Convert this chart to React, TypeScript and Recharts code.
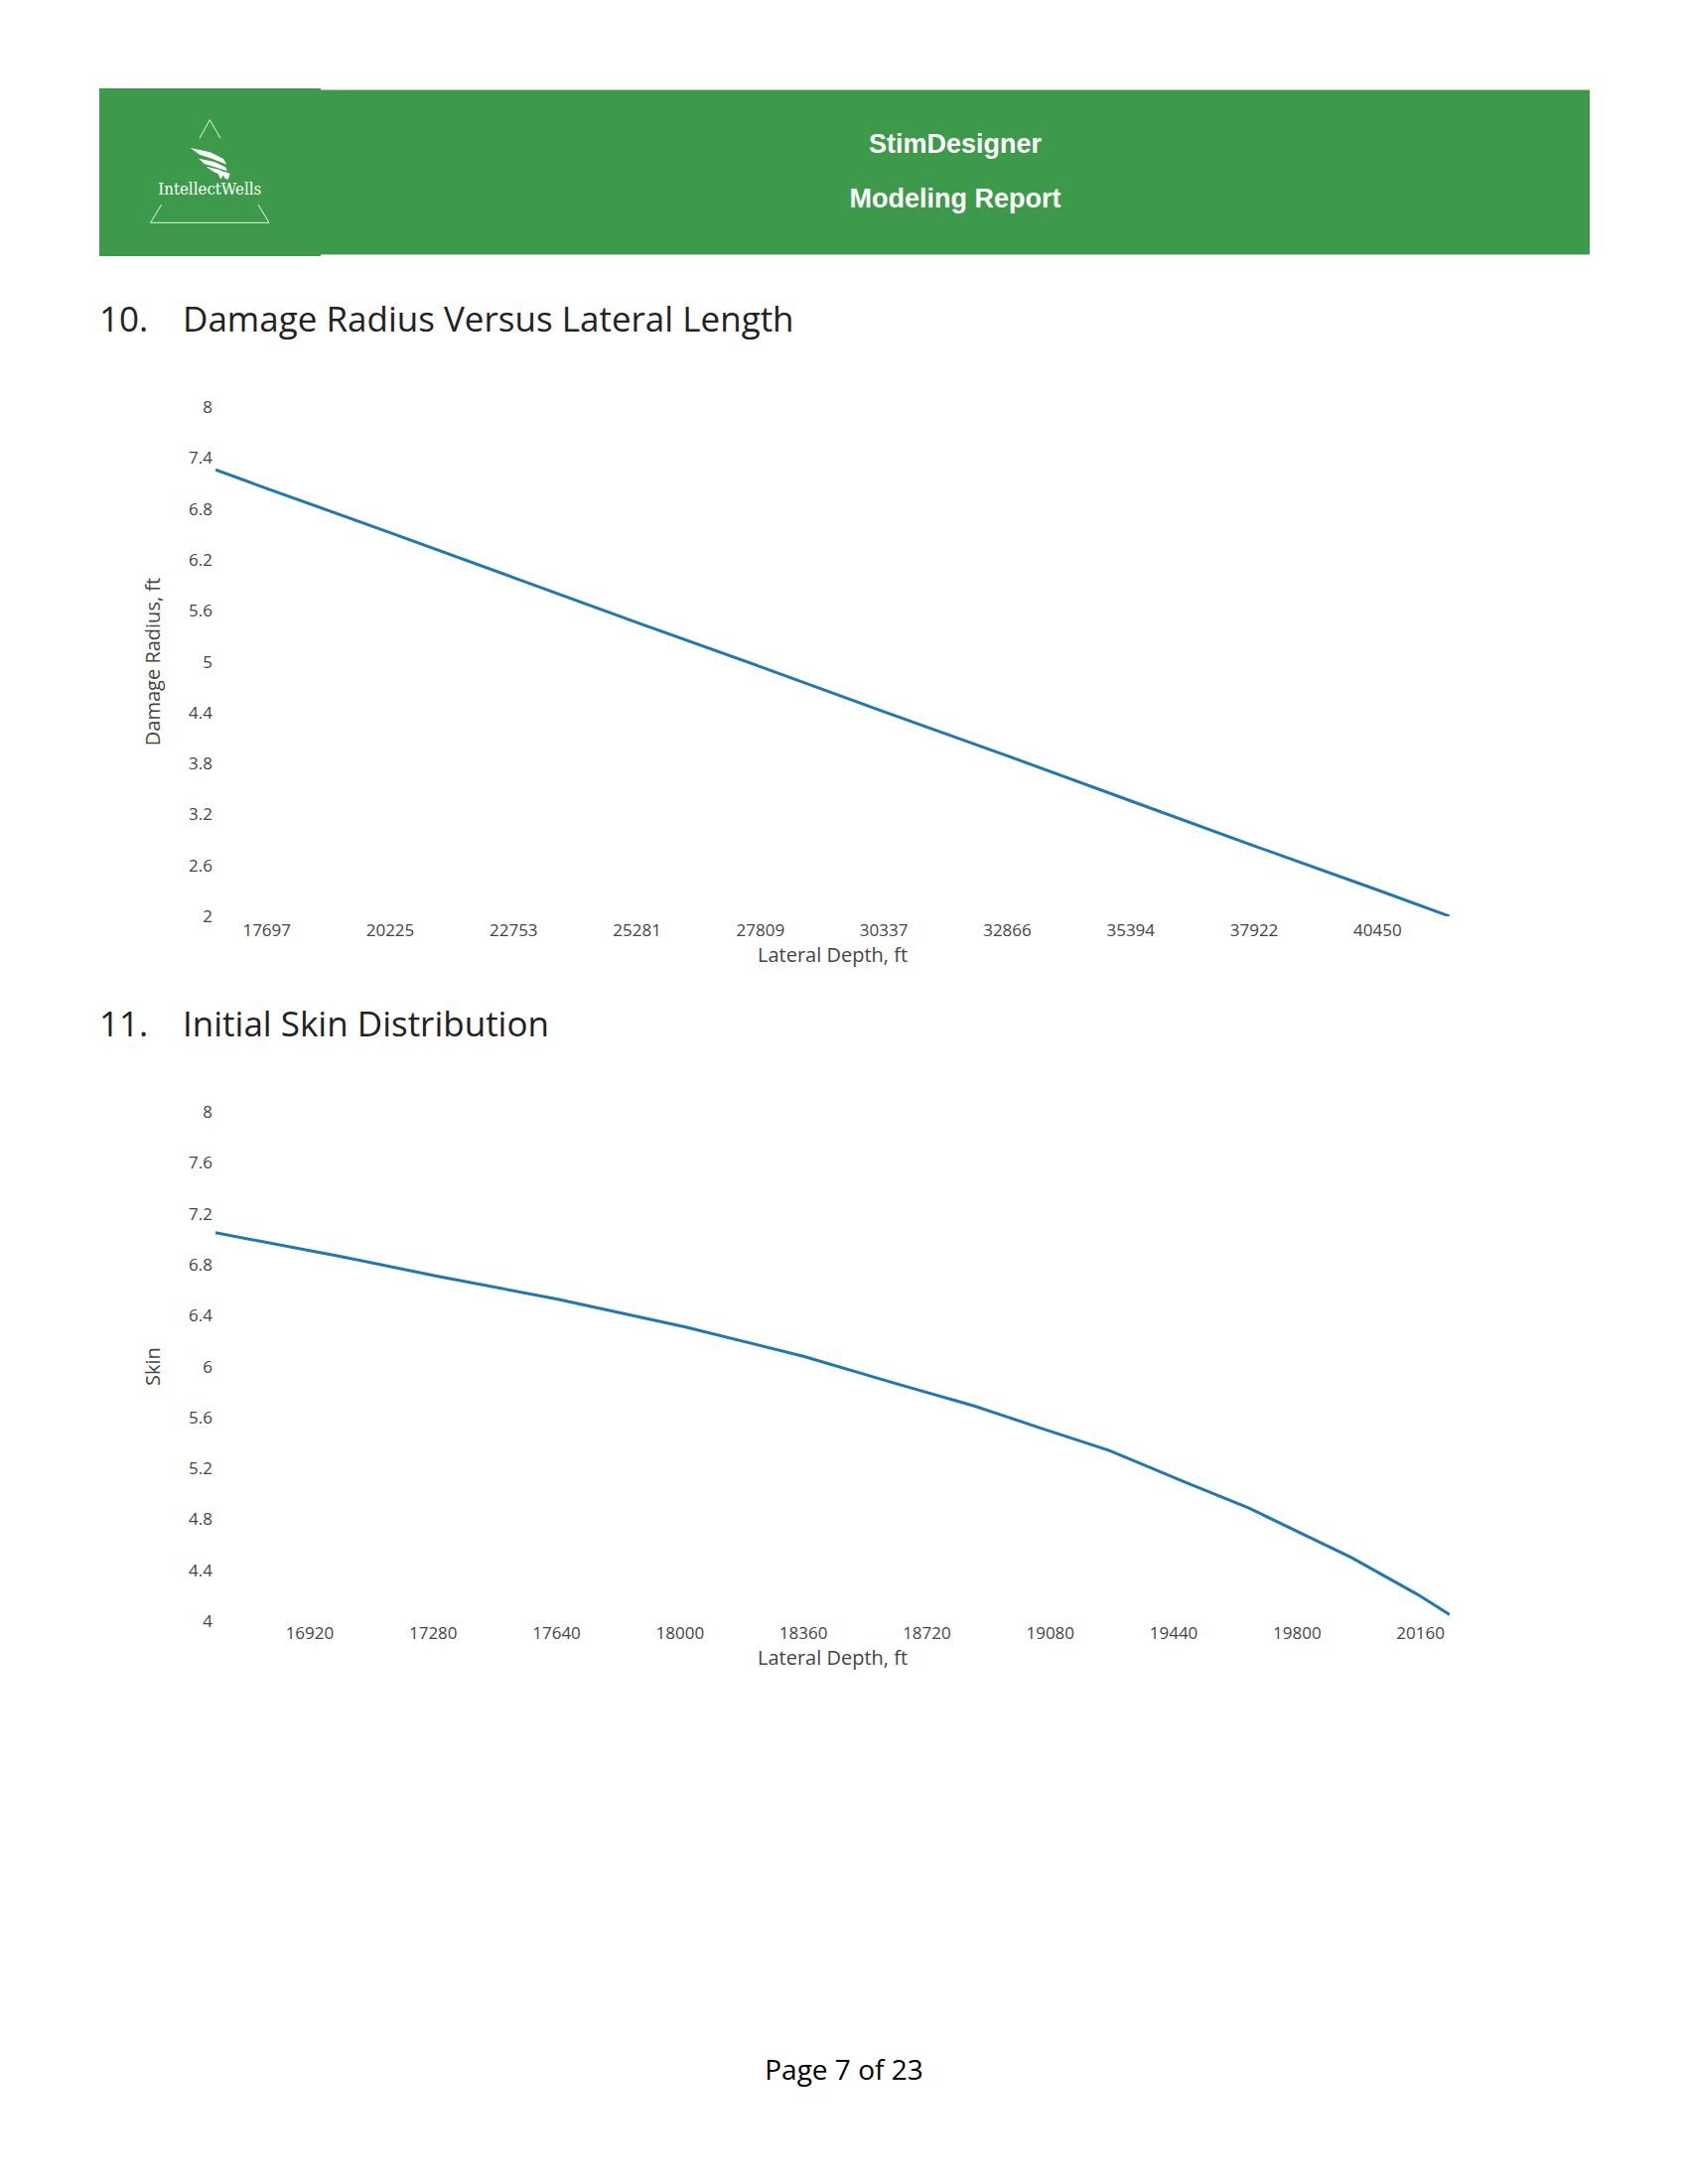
import { LineChart, Line, XAxis, YAxis } from 'recharts';

// Damage radius vs lateral length
const damageDepth = [16645, 17697, 20225, 22753, 25281, 27809, 30337, 32866, 35394, 37922, 40450, 41928];
const damageRadius = [7.26, 7.04, 6.52, 5.99, 5.46, 4.94, 4.41, 3.89, 3.36, 2.83, 2.31, 2.0];
const damageXTicks = [17697, 20225, 22753, 25281, 27809, 30337, 32866, 35394, 37922, 40450];
const damageYTicks = [2, 2.6, 3.2, 3.8, 4.4, 5, 5.6, 6.2, 6.8, 7.4, 8];

// Initial skin distribution
const skinDepth = [16645, 17000, 17291, 17640, 18016, 18360, 18624, 18858, 19059, 19252, 19474, 19658, 19958, 20151, 20245];
const skinValue = [7.05, 6.87, 6.71, 6.53, 6.31, 6.08, 5.87, 5.69, 5.51, 5.34, 5.09, 4.89, 4.5, 4.21, 4.05];
const skinXTicks = [16920, 17280, 17640, 18000, 18360, 18720, 19080, 19440, 19800, 20160];
const skinYTicks = [4, 4.4, 4.8, 5.2, 5.6, 6, 6.4, 6.8, 7.2, 7.6, 8];

const damageData = damageDepth.map((d, i) => ({ depth: d, value: damageRadius[i] }));
const skinData = skinDepth.map((d, i) => ({ depth: d, value: skinValue[i] }));

const FONT = '"Open Sans", sans-serif';
const GREEN = '#3d9a4a';
const tick = { fontSize: 17, fill: '#444', fontFamily: FONT };
const axisTitle = { fill: '#444', fontSize: 20, fontFamily: FONT };

function Chart({ data, domain, xTicks, yTicks, yDomain, yTitle, xGap, xTitleH, top }: any) {
  return (
    <div style={{ position: 'absolute', left: 0, top }}>
      <LineChart
        width={1700}
        height={640}
        data={data}
        margin={{ top: 30, right: 240, left: 91, bottom: 640 - 30 - 513 - xTitleH }}
      >
        <XAxis
          dataKey="depth"
          type="number"
          domain={domain}
          ticks={xTicks}
          allowDataOverflow
          axisLine={false}
          tickLine={false}
          tickSize={0}
          tickMargin={xGap}
          tick={tick}
          height={xTitleH}
          interval={0}
          label={{ value: 'Lateral Depth, ft', position: 'center', ...axisTitle }}
        />
        <YAxis
          type="number"
          domain={yDomain}
          ticks={yTicks}
          allowDataOverflow
          axisLine={false}
          tickLine={false}
          tickSize={0}
          tickMargin={3}
          tick={tick}
          width={126}
          interval={0}
          label={{ value: yTitle, angle: -90, position: 'center', ...axisTitle }}
        />
        <Line
          type="linear"
          dataKey="value"
          stroke="#1f77b4"
          strokeWidth={3}
          dot={false}
          isAnimationActive={false}
        />
      </LineChart>
    </div>
  );
}

function Logo() {
  // drawn in the zoomed coordinate frame, scaled down
  return (
    <g transform="translate(95,85) scale(0.3333)" fill="none" stroke="#e8f3e9" strokeWidth={3}>
      <polyline points="318,163 349,107 381,163" />
      <polyline points="203,363 170,418 528,418 495,363" />
      <g fill="#ffffff" stroke="none">
        <path d="M290 192 L350 205 L390 225 L400 242 L355 224 L318 212 Z" />
        <path d="M315 224 L362 234 L396 250 L402 262 L364 250 L332 240 Z" />
        <path d="M338 248 L376 257 L400 268 L394 278 L360 264 Z" />
        <path d="M372 266 L390 272 L382 287 Z" />
        <path d="M394 264 L410 270 L404 288 L392 282 Z" />
      </g>
      <text
        x={349}
        y={333}
        textAnchor="middle"
        fill="#ffffff"
        stroke="none"
        fontSize={48}
        fontFamily='"DejaVu Serif", serif'
        textLength={312}
        lengthAdjust="spacingAndGlyphs"
      >
        IntellectWells
      </text>
    </g>
  );
}

export default function App() {
  return (
    <div style={{ position: 'absolute', left: 0, top: 0, width: 1700, height: 2200, background: '#fff' }}>
      <svg width={1700} height={2200} style={{ position: 'absolute', left: 0, top: 0 }}>
        <rect x={100} y={89} width={223} height={169} fill={GREEN} />
        <rect x={323} y={90} width={1278} height={167} fill={GREEN} />
        <line x1={323} y1={90.5} x2={1601} y2={90.5} stroke="#a9d4ae" strokeWidth={1} />
        <line x1={323} y1={256.5} x2={1601} y2={256.5} stroke="#a9d4ae" strokeWidth={1} />
        <Logo />
        <text x={962} y={154} textAnchor="middle" fill="#fff" fontSize={27} fontWeight="bold"
          fontFamily='"Liberation Sans", Arial, sans-serif'>StimDesigner</text>
        <text x={962} y={209} textAnchor="middle" fill="#fff" fontSize={27} fontWeight="bold"
          fontFamily='"Liberation Sans", Arial, sans-serif'>Modeling Report</text>

        <text x={100} y={334} fill="#222" fontSize={35} fontFamily={FONT}>10.</text>
        <text x={184} y={334} fill="#222" fontSize={35} fontFamily={FONT}>Damage Radius Versus Lateral Length</text>
        <text x={100} y={1044} fill="#222" fontSize={35} fontFamily={FONT}>11.</text>
        <text x={184} y={1044} fill="#222" fontSize={35} fontFamily={FONT}>Initial Skin Distribution</text>

        <text x={850} y={2095} textAnchor="middle" fill="#000" fontSize={28} fontFamily={FONT}>Page 7 of 23</text>
      </svg>

      <Chart
        data={damageData}
        domain={[16645, 41928]}
        xTicks={damageXTicks}
        yTicks={damageYTicks}
        yDomain={[2, 8]}
        yTitle="Damage Radius, ft"
        xGap={8}
        xTitleH={78}
        top={380}
      />
      <Chart
        data={skinData}
        domain={[16645, 20245]}
        xTicks={skinXTicks}
        yTicks={skinYTicks}
        yDomain={[4, 8]}
        yTitle="Skin"
        xGap={6}
        xTitleH={74}
        top={1090}
      />
    </div>
  );
}
